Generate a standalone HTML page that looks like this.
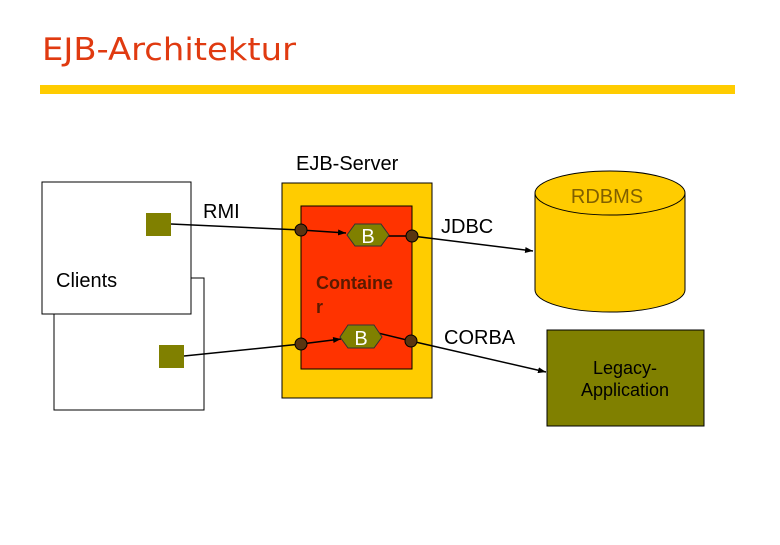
<!DOCTYPE html>
<html><head><style>body{margin:0;background:#fff}</style></head><body>
<svg width="780" height="540" xmlns="http://www.w3.org/2000/svg" font-family="Liberation Sans, sans-serif">
<defs><marker id="a" markerWidth="8" markerHeight="6" refX="8" refY="3" orient="auto" markerUnits="userSpaceOnUse"><path d="M0,0 L8,3 L0,6z" fill="#000"/></marker></defs>
<rect width="780" height="540" fill="#fff"/>
<text x="42" y="60" font-size="31" fill="#e03a10" font-family="DejaVu Sans, sans-serif" textLength="254" lengthAdjust="spacingAndGlyphs">EJB-Architektur</text>
<rect x="40" y="85" width="695" height="9" fill="#ffcc00"/>
<rect x="54" y="278" width="150" height="132" fill="#fff" stroke="#000"/>
<rect x="42" y="182" width="149" height="132" fill="#fff" stroke="#000"/>
<rect x="146" y="213" width="25" height="23" fill="#808000"/>
<rect x="159" y="345" width="25" height="23" fill="#808000"/>
<text x="56" y="287" font-size="20">Clients</text>
<text x="203" y="218" font-size="20">RMI</text>
<text x="296" y="170" font-size="20">EJB-Server</text>
<rect x="282" y="183" width="150" height="215" fill="#ffcc00" stroke="#000"/>
<rect x="301" y="206" width="111" height="163" fill="#ff3300" stroke="#000"/>
<text x="316" y="289" font-size="18" font-weight="bold" fill="#5a1a00">Containe</text>
<text x="316" y="313" font-size="18" font-weight="bold" fill="#5a1a00">r</text>
<line x1="171" y1="224" x2="301" y2="230" stroke="#000" stroke-width="1.5"/>
<line x1="184" y1="356" x2="301" y2="344" stroke="#000" stroke-width="1.5"/>
<line x1="301" y1="230" x2="346" y2="233" stroke="#000" stroke-width="1.5" marker-end="url(#a)"/>
<line x1="301" y1="344" x2="341" y2="339" stroke="#000" stroke-width="1.5" marker-end="url(#a)"/>
<line x1="385" y1="236" x2="412" y2="236" stroke="#000" stroke-width="1.5"/>
<line x1="378" y1="333" x2="411" y2="341" stroke="#000" stroke-width="1.5"/>
<line x1="412" y1="236" x2="533" y2="251" stroke="#000" stroke-width="1.5" marker-end="url(#a)"/>
<line x1="411" y1="341" x2="546" y2="372" stroke="#000" stroke-width="1.5" marker-end="url(#a)"/>
<polygon points="347,235 355,224 381,224 389,235 381,246 355,246" fill="#808000" stroke="#333"/>
<polygon points="340,337 348,325 374,325 382,337 374,348 348,348" fill="#808000" stroke="#333"/>
<text x="368" y="243" font-size="20" fill="#fff" text-anchor="middle">B</text>
<text x="361" y="345" font-size="20" fill="#fff" text-anchor="middle">B</text>
<circle cx="301" cy="230" r="6" fill="#5a3510" stroke="#000"/>
<circle cx="412" cy="236" r="6" fill="#5a3510" stroke="#000"/>
<circle cx="301" cy="344" r="6" fill="#5a3510" stroke="#000"/>
<circle cx="411" cy="341" r="6" fill="#5a3510" stroke="#000"/>
<text x="441" y="233" font-size="20">JDBC</text>
<text x="444" y="344" font-size="20">CORBA</text>
<path d="M535,193 L535,290 A75,22 0 0 0 685,290 L685,193" fill="#ffcc00" stroke="#000"/>
<ellipse cx="610" cy="193" rx="75" ry="22" fill="#ffcc00" stroke="#000"/>
<text x="607" y="203" font-size="20" fill="#806000" text-anchor="middle">RDBMS</text>
<rect x="547" y="330" width="157" height="96" fill="#808000" stroke="#000"/>
<text x="625" y="374" font-size="18" text-anchor="middle">Legacy-</text>
<text x="625" y="396" font-size="18" text-anchor="middle">Application</text>
</svg>
</body></html>
